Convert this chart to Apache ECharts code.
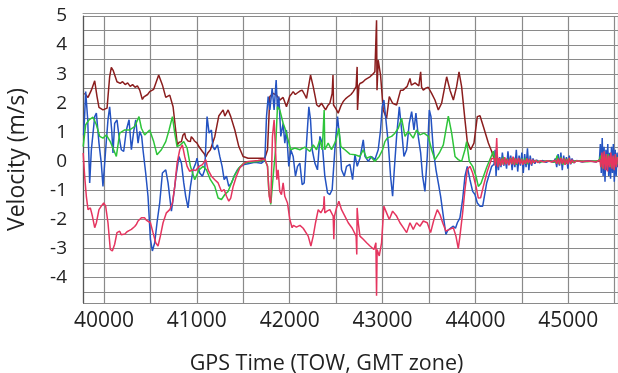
<!DOCTYPE html>
<html>
<head>
<meta charset="utf-8">
<script src="https://cdn.jsdelivr.net/npm/echarts@6/dist/echarts.min.js"></script>
<style>
  html, body { margin: 0; padding: 0; background: #fff; }
  #chart { width: 618px; height: 373px; }
</style>
</head>
<body>
<div id="chart"></div>
<script>
// velocity components vs GPS time of week, [tow, m/s] vertices
const maroon = [
  [39790, 2.34], [39828, 2.20], [39864, 2.45], [39900, 2.77], [39925, 2.23], [39946, 1.86],
  [39989, 1.77], [40033, 1.83], [40061, 2.91], [40079, 3.23], [40100, 3.12], [40115, 3.08],
  [40140, 2.74], [40150, 2.70], [40160, 2.76], [40175, 2.68], [40200, 2.74], [40228, 2.64],
  [40255, 2.70], [40282, 2.58], [40308, 2.64], [40335, 2.55], [40360, 2.60], [40385, 2.45],
  [40413, 2.13], [40430, 2.22], [40449, 2.18], [40470, 2.30], [40492, 2.40], [40510, 2.36],
  [40535, 2.48], [40589, 2.97], [40629, 2.63], [40665, 2.20], [40708, 2.28], [40744, 1.88],
  [40772, 1.08], [40790, 0.57], [40810, 0.66], [40834, 0.68], [40850, 0.90], [40869, 0.97],
  [40880, 0.80], [40890, 0.86], [40905, 0.70], [40916, 0.76], [40930, 0.68], [40940, 0.85],
  [40959, 0.78], [40975, 0.70], [41002, 0.63], [41020, 0.52], [41035, 0.46], [41060, 0.34],
  [41080, 0.26], [41096, 0.15], [41120, 0.30], [41146, 0.40], [41193, 0.85], [41236, 1.56],
  [41283, 1.77], [41301, 1.56], [41337, 1.77], [41365, 1.54], [41409, 1.08], [41452, 0.51],
  [41498, 0.17], [41552, 0.11], [41660, 0.11], [41732, 0.11], [41761, 0.40], [41786, 2.23],
  [41822, 2.34], [41858, 2.28], [41893, 2.11], [41929, 2.20], [41965, 1.88], [42001, 2.25],
  [42020, 2.32], [42037, 2.40], [42060, 2.30], [42084, 2.36], [42110, 2.42], [42134, 2.45],
  [42160, 2.30], [42181, 2.17], [42224, 2.97], [42253, 2.57], [42278, 2.17], [42290, 1.95],
  [42314, 1.88], [42342, 2.00], [42386, 1.77], [42410, 1.92], [42432, 2.00], [42457, 2.34],
  [42466, 2.97], [42472, 1.94], [42500, 1.80], [42522, 1.66], [42550, 1.90], [42576, 2.06],
  [42600, 2.15], [42630, 2.23], [42660, 2.30], [42684, 2.40], [42715, 2.57], [42726, 3.25],
  [42730, 1.77], [42745, 2.60], [42756, 2.68], [42785, 2.72], [42810, 2.80], [42840, 2.86],
  [42864, 2.91], [42895, 3.00], [42917, 3.08], [42930, 3.10], [42935, 4.85], [42940, 2.45],
  [42953, 3.48], [42978, 2.97], [43007, 1.77], [43043, 1.48], [43072, 2.23], [43108, 2.00],
  [43151, 1.94], [43194, 2.45], [43220, 2.45], [43241, 2.51], [43265, 2.58], [43295, 2.85],
  [43310, 2.62], [43330, 2.63], [43350, 2.70], [43366, 2.68], [43390, 2.60], [43410, 3.08],
  [43420, 2.55], [43438, 2.45], [43465, 2.52], [43492, 2.55], [43528, 2.34], [43564, 2.11],
  [43600, 1.77], [43636, 2.00], [43690, 2.91], [43726, 2.45], [43762, 2.11], [43797, 2.57],
  [43823, 3.08], [43851, 2.57], [43887, 1.43], [43912, 0.68], [43948, 0.40], [43984, 0.63],
  [44020, 1.54], [44049, 1.57], [44085, 1.20], [44139, 0.63], [44175, 0.34], [44193, 0.17],
  [44220, 0.05], [44300, 0.02], [44500, 0.0], [45000, 0.01], [45535, 0.0]
];

const blue = [
  [39780, 0.9], [39792, 1.6], [39803, 2.40], [39825, 1.43], [39846, -0.74], [39864, 0.40],
  [39900, 1.54], [39918, 1.66], [39946, 0.63], [39971, -0.06], [39989, -0.86], [40018, 0.40],
  [40043, 1.43], [40061, 1.88], [40083, 1.08], [40097, 0.29], [40115, 1.31], [40140, 1.43],
  [40162, 0.86], [40187, 0.40], [40212, 0.34], [40241, 1.08], [40270, 1.43], [40295, 0.40],
  [40320, 1.03], [40342, 1.43], [40367, 0.63], [40385, 1.03], [40406, 0.86], [40420, 0.40],
  [40449, -0.40], [40474, -1.20], [40500, -2.68], [40521, -3.08], [40546, -2.80], [40571, -2.11],
  [40600, -1.43], [40629, -0.40], [40665, -0.29], [40690, -0.74], [40726, -1.71], [40751, -1.14],
  [40780, -0.40], [40808, 0.17], [40834, -0.06], [40859, -0.74], [40880, -1.20], [40905, -1.60],
  [40931, -0.86], [40959, -0.29], [40988, -0.06], [41002, 0.11], [41031, -0.40], [41060, -0.51],
  [41085, -0.29], [41110, 1.54], [41132, 0.97], [41157, 1.08], [41172, 0.51], [41193, 0.40],
  [41222, 0.57], [41247, 0.17], [41272, -0.17], [41294, -0.63], [41319, -0.51], [41344, -0.86],
  [41373, -0.74], [41401, -0.51], [41437, -0.29], [41473, -0.17], [41509, -0.11], [41552, -0.08],
  [41624, -0.03], [41696, -0.06], [41732, 0.03], [41750, 1.54], [41768, 2.23], [41786, 1.77],
  [41811, 2.51], [41832, 1.77], [41854, 2.80], [41868, 1.77], [41883, 2.23], [41904, 0.86],
  [41929, 1.31], [41947, 0.63], [41965, 1.08], [41990, -0.17], [42012, 0.40], [42037, 0.17],
  [42062, -0.51], [42084, -0.17], [42109, -0.06], [42134, -0.80], [42156, -0.74], [42181, 0.63],
  [42206, 1.88], [42224, 1.43], [42242, 0.40], [42271, -0.06], [42299, -0.29], [42325, 0.86],
  [42350, 0.63], [42378, -0.51], [42407, -1.08], [42432, -1.14], [42457, -0.97], [42486, 0.40],
  [42515, 1.54], [42536, 0.86], [42558, -0.29], [42587, -0.51], [42612, -0.17], [42648, -0.10],
  [42677, -0.63], [42702, 0.23], [42727, -0.17], [42756, 0.11], [42792, 0.74], [42810, 0.17],
  [42846, 0.0], [42881, 0.17], [42917, 0.06], [42953, 0.40], [42978, 1.08], [42996, 1.88],
  [43014, 2.11], [43036, 1.43], [43061, 0.63], [43086, -0.51], [43108, -1.20], [43126, -0.29],
  [43151, 0.86], [43180, 1.88], [43205, 1.08], [43230, 0.17], [43259, 0.40], [43287, 1.31],
  [43313, 1.71], [43338, 1.08], [43359, 1.66], [43384, 0.86], [43410, 0.29], [43431, -0.51],
  [43456, -1.03], [43481, 0.17], [43503, 1.77], [43521, 1.54], [43546, 0.40], [43575, -0.29],
  [43600, -0.74], [43625, -1.20], [43654, -1.88], [43682, -2.51], [43700, -2.38], [43719, -2.40],
  [43740, -2.28], [43762, -2.23], [43785, -2.30], [43805, -2.11], [43833, -1.94], [43862, -1.31],
  [43887, -0.51], [43912, -0.17], [43941, -0.63], [43970, -1.03], [43995, -1.14], [44020, -1.43],
  [44049, -1.54], [44078, -1.54], [44121, -0.74], [44175, -0.17], [44200, -0.10], [44212, 0.40],
  [44222, -0.50], [44235, 0.20], [44248, -0.30], [44262, 0.15], [44275, -0.20], [44290, 0.30],
  [44305, -0.15], [44320, 0.10], [44335, -0.25], [44350, 0.35], [44365, -0.10], [44380, 0.20],
  [44395, -0.30], [44410, 0.15], [44425, -0.20], [44440, 0.40], [44455, -0.35], [44470, 0.20],
  [44485, -0.15], [44500, 0.30], [44515, -0.40], [44530, 0.25], [44545, -0.20], [44560, 0.45],
  [44575, -0.30], [44590, 0.20], [44605, -0.15], [44620, 0.10], [44640, -0.08], [44660, 0.05],
  [44690, -0.05], [44720, 0.03], [44760, -0.03], [44800, 0.02], [44840, -0.03], [44860, 0.10],
  [44875, -0.20], [44890, 0.25], [44905, -0.15], [44920, 0.30], [44935, -0.30], [44950, 0.20],
  [44965, -0.10], [44980, 0.15], [44995, -0.25], [45010, 0.20], [45025, -0.10], [45040, 0.10],
  [45060, -0.05], [45090, 0.03], [45150, -0.02], [45220, 0.02], [45300, -0.02], [45335, 0.05],
  [45345, 0.60], [45355, -0.40], [45365, 0.80], [45375, -0.50], [45385, 0.50], [45395, -0.70],
  [45405, 0.40], [45415, -0.30], [45425, 0.60], [45435, -0.50], [45445, 0.30], [45455, -0.60],
  [45465, 0.50], [45475, -0.40], [45485, 0.60], [45495, -0.70], [45505, 0.40], [45515, -0.50],
  [45525, 0.30], [45535, -0.20]
];

const green = [
  [39776, 0.51], [39803, 1.26], [39839, 1.43], [39882, 1.52], [39918, 1.26], [39954, 0.86],
  [39989, 0.80], [40025, 0.91], [40068, 0.68], [40104, 0.40], [40133, 0.17], [40169, 0.97],
  [40223, 1.08], [40277, 1.08], [40331, 1.20], [40377, 1.54], [40403, 1.14], [40438, 0.91],
  [40492, 1.08], [40535, 0.68], [40571, 0.23], [40618, 0.40], [40665, 0.68], [40701, 1.08],
  [40737, 1.54], [40762, 0.97], [40787, 0.51], [40823, 0.57], [40859, 0.68], [40895, 0.46],
  [40931, -0.17], [40977, -0.63], [41024, -0.29], [41067, -0.17], [41103, -0.29], [41146, -0.63],
  [41193, -0.86], [41229, -1.26], [41265, -1.31], [41301, -1.14], [41337, -1.03], [41373, -0.74],
  [41409, -0.46], [41452, -0.23], [41498, -0.08], [41552, -0.03], [41660, 0.0], [41732, 0.06],
  [41761, -0.17], [41775, -1.03], [41796, -1.48], [41822, -0.51], [41847, 0.40], [41868, 1.88],
  [41893, 1.77], [41929, 1.31], [41955, 1.08], [41983, 0.74], [42012, 0.40], [42055, 0.46],
  [42109, 0.40], [42163, 0.49], [42217, 0.34], [42253, 0.57], [42289, 0.40], [42325, 0.74],
  [42350, 0.40], [42371, 1.77], [42378, 0.40], [42414, 0.63], [42450, 0.40], [42493, 0.68],
  [42529, 1.14], [42551, 0.51], [42594, 0.40], [42648, 0.25], [42702, 0.23], [42756, 0.17],
  [42792, 0.40], [42828, 0.11], [42871, 0.17], [42917, 0.0], [42964, 0.17], [43000, 0.40],
  [43025, 0.68], [43050, 0.80], [43097, 0.86], [43133, 0.97], [43169, 1.14], [43205, 1.48],
  [43241, 0.86], [43277, 1.03], [43330, 0.80], [43366, 1.08], [43402, 0.91], [43446, 0.97],
  [43492, 0.86], [43528, 0.40], [43564, 0.06], [43611, 0.29], [43654, 0.57], [43708, 1.56],
  [43744, 0.97], [43780, 0.17], [43815, 0.06], [43851, 0.0], [43887, 0.40], [43905, 0.68],
  [43934, 0.0], [43970, -0.17], [44006, -0.51], [44031, -0.86], [44060, -0.75], [44121, -0.20],
  [44193, 0.35], [44200, 0.30], [44215, -0.10], [44230, 0.20], [44245, -0.15], [44260, 0.10],
  [44280, -0.10], [44300, 0.15], [44320, -0.08], [44340, 0.10], [44360, -0.10], [44380, 0.12],
  [44400, -0.08], [44420, 0.10], [44440, -0.12], [44460, 0.08], [44480, -0.06], [44500, 0.10],
  [44520, -0.08], [44540, 0.12], [44560, -0.10], [44580, 0.06], [44600, -0.05], [44640, 0.03],
  [44700, -0.02], [44780, 0.02], [44860, -0.03], [44880, 0.20], [44900, -0.10], [44920, 0.15],
  [44940, -0.12], [44960, 0.10], [44980, -0.08], [45000, 0.10], [45030, -0.05], [45080, 0.02],
  [45200, -0.01], [45330, 0.02], [45350, 0.20], [45370, -0.25], [45390, 0.20], [45410, -0.15],
  [45430, 0.25], [45450, -0.20], [45470, 0.15], [45490, -0.25], [45510, 0.20], [45530, -0.10]
];

const pink = [
  [39776, 0.29], [39792, -0.51], [39810, -1.20], [39828, -1.66], [39853, -1.60], [39875, -1.88],
  [39900, -2.28], [39918, -2.11], [39946, -1.66], [39971, -1.54], [39997, -1.43], [40018, -1.54],
  [40043, -2.11], [40068, -3.03], [40090, -3.08], [40115, -2.85], [40140, -2.45], [40155, -2.50],
  [40169, -2.40], [40185, -2.52], [40205, -2.46], [40225, -2.50], [40248, -2.42], [40270, -2.38],
  [40295, -2.34], [40315, -2.30], [40331, -2.24], [40350, -2.16], [40367, -2.05], [40385, -2.00],
  [40403, -1.94], [40420, -2.00], [40438, -1.94], [40455, -2.02], [40474, -2.00], [40500, -2.11],
  [40528, -2.45], [40557, -2.80], [40582, -2.91], [40607, -2.57], [40636, -2.11], [40672, -1.77],
  [40708, -1.66], [40737, -1.43], [40762, -0.86], [40787, -0.06], [40816, 0.40], [40844, 0.57],
  [40869, 0.17], [40895, -0.17], [40923, -0.34], [40952, -0.29], [40988, -0.31], [41024, -0.17],
  [41060, -0.11], [41096, 0.06], [41121, -0.29], [41157, -0.51], [41193, -0.63], [41229, -0.74],
  [41265, -1.03], [41294, -0.97], [41319, -1.20], [41344, -1.37], [41365, -1.26], [41391, -0.86],
  [41426, -0.51], [41462, -0.23], [41509, -0.06], [41552, 0.0], [41660, 0.03], [41732, 0.08],
  [41761, -0.17], [41779, -1.20], [41796, -1.43], [41814, 0.86], [41832, 1.43], [41847, 0.40],
  [41861, -0.63], [41875, -0.29], [41893, -1.03], [41911, -1.14], [41929, -0.74], [41947, -1.20],
  [41976, -1.43], [42001, -2.00], [42026, -2.28], [42040, -2.20], [42055, -2.17], [42072, -2.26],
  [42091, -2.28], [42110, -2.20], [42127, -2.23], [42145, -2.30], [42163, -2.34], [42199, -2.57],
  [42228, -2.91], [42253, -2.57], [42278, -2.11], [42307, -1.66], [42335, -1.77], [42364, -1.60],
  [42371, -1.20], [42378, -1.77], [42405, -1.70], [42432, -1.66], [42468, -1.88], [42475, -2.68],
  [42482, -1.88], [42504, -1.60], [42529, -1.37], [42558, -1.66], [42594, -1.88], [42630, -2.11],
  [42673, -2.30], [42691, -2.28], [42715, -2.57], [42722, -3.20], [42726, -1.60], [42738, -2.11],
  [42756, -2.57], [42792, -2.68], [42810, -2.62], [42828, -2.80], [42845, -2.76], [42864, -2.91],
  [42885, -2.95], [42907, -3.03], [42928, -2.80], [42935, -4.62], [42941, -3.03], [42964, -3.25],
  [42989, -2.80], [43014, -1.54], [43043, -1.77], [43072, -2.00], [43108, -1.71], [43151, -1.88],
  [43187, -2.11], [43223, -2.28], [43259, -2.45], [43295, -2.11], [43330, -2.34], [43366, -2.11],
  [43402, -2.23], [43438, -2.05], [43481, -2.11], [43517, -2.45], [43553, -2.00], [43589, -1.66],
  [43618, -1.83], [43647, -2.11], [43682, -2.40], [43719, -2.34], [43762, -2.28], [43790, -2.57],
  [43815, -3.00], [43833, -2.57], [43862, -1.77], [43887, -0.97], [43912, -0.29], [43941, -0.17],
  [43970, -0.40], [44006, -0.86], [44031, -1.26], [44056, -1.25], [44085, -0.86], [44128, -0.34],
  [44175, 0.10], [44200, 0.10], [44215, -0.15], [44229, 0.80], [44240, -0.20], [44255, 0.12],
  [44270, -0.15], [44285, 0.10], [44300, -0.12], [44315, 0.15], [44330, -0.10], [44345, 0.08],
  [44360, -0.14], [44375, 0.12], [44390, -0.10], [44405, 0.16], [44420, -0.12], [44435, 0.10],
  [44450, -0.08], [44465, 0.12], [44480, -0.10], [44495, 0.08], [44510, -0.12], [44525, 0.06],
  [44540, -0.08], [44555, 0.10], [44570, -0.06], [44585, 0.08], [44600, -0.10], [44615, 0.06],
  [44630, -0.05], [44650, 0.04], [44670, -0.04], [44700, 0.02], [44740, -0.02], [44780, 0.02],
  [44820, -0.02], [44860, 0.04], [44875, -0.08], [44890, 0.10], [44905, -0.10], [44920, 0.12],
  [44935, -0.08], [44950, 0.10], [44965, -0.12], [44980, 0.08], [44995, -0.10], [45010, 0.12],
  [45025, -0.08], [45040, 0.06], [45060, -0.04], [45090, 0.02], [45150, -0.01], [45220, 0.01],
  [45300, -0.02], [45340, 0.05], [45350, -0.20], [45362, 0.30], [45374, -0.25], [45386, 0.35],
  [45398, -0.30], [45410, 0.25], [45422, -0.35], [45434, 0.20], [45446, -0.20], [45458, 0.30],
  [45470, -0.25], [45482, 0.20], [45494, -0.30], [45506, 0.25], [45518, -0.20], [45530, 0.15]
];

const X_MIN = 39774, X_MAX = 45535;
const Y_MIN = -4.87, Y_MAX = 5;

const FONT = "'Open Sans', 'Liberation Sans', sans-serif";
const GRID = "#8a8a8a";
const AXIS = "#555";

function isWhole(v, step) {
  return Math.abs(v / step - Math.round(v / step)) < 1e-6;
}

function line(name, data, color) {
  return {
    name,
    type: "line",
    data,
    showSymbol: false,
    lineStyle: { color, width: 1.5 },
    emphasis: { disabled: true },
  };
}

const chart = echarts.init(document.getElementById("chart"));
chart.setOption({
  animation: false,
  backgroundColor: "#fff",
  // fixed plot box; v6 would otherwise shrink it to fit the axis names
  grid: { left: 83, right: 0, top: 16, bottom: 70, outerBoundsMode: "none" },
  xAxis: [
    {
      type: "value",
      min: X_MIN,
      max: X_MAX,
      splitNumber: 12,
      name: "GPS Time (TOW, GMT zone)",
      nameLocation: "middle",
      nameGap: 50,
      // title sits a bit left of the plot centre in the original
      nameTextStyle: { fontFamily: FONT, fontSize: 21.5, color: "#222", padding: [0, 48, 0, 0] },
      axisLine: { show: true, lineStyle: { color: AXIS, width: 1.2 } },
      axisTick: { show: false },
      axisLabel: {
        fontFamily: FONT, fontSize: 21, color: "#222", margin: 8,
        formatter: (v) => (isWhole(v, 1000) ? String(v) : ""),
      },
      splitLine: { show: true, lineStyle: { color: GRID, width: 1.2 } },
    },
    {
      // thin second rule above the top edge (the frame is drawn as a double line)
      type: "value",
      position: "top",
      offset: 3,
      min: X_MIN,
      max: X_MAX,
      axisLine: { show: true, lineStyle: { color: "#999", width: 1 } },
      axisTick: { show: false },
      axisLabel: { show: false },
      splitLine: { show: false },
    },
  ],
  yAxis: {
    type: "value",
    min: Y_MIN,
    max: Y_MAX,
    splitNumber: 20,
    name: "Velocity (m/s)",
    nameLocation: "middle",
    nameRotate: 90,
    nameGap: 54,
    nameTextStyle: { fontFamily: FONT, fontSize: 23, color: "#222" },
    axisLine: { show: true, lineStyle: { color: AXIS, width: 1.2 } },
    axisTick: { show: false },
    axisLabel: {
      fontFamily: FONT, fontSize: 19, color: "#222", margin: 16,
      formatter: (v) => (isWhole(v, 1) ? String(Math.round(v)) : ""),
    },
    splitLine: { show: true, lineStyle: { color: GRID, width: 1.2 } },
  },
  series: [
    line("maroon", maroon, "#8b1e1e"),
    line("blue", blue, "#2453c2"),
    line("green", green, "#2ec43a"),
    line("pink", pink, "#e5355f"),
  ],
});
</script>
</body>
</html>
